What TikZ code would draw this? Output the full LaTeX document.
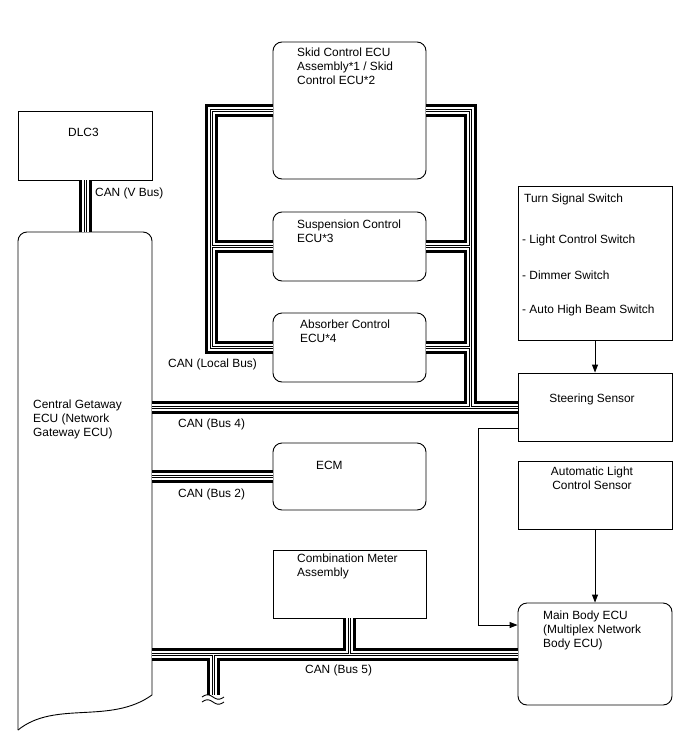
\documentclass[tikz,border=0pt]{standalone}
\usepackage{fontspec}
\setmainfont{Liberation Sans}
\usetikzlibrary{arrows.meta}
\begin{document}
\begin{tikzpicture}[x=1pt,y=-1pt,
  font=\fontsize{11.9}{14}\selectfont,
  box/.style={draw, line width=0.9pt, inner sep=0pt},
  rbox/.style={box, rounded corners=9pt},
  txt/.style={inner sep=0pt, align=left, anchor=north west},
  ctxt/.style={inner sep=0pt, align=center, anchor=center},
  lbl/.style={inner sep=0pt, anchor=west},
  arr/.style={line width=0.9pt, -{Triangle[length=8pt,width=6pt]}},
  c1/.style={line width=13pt, draw=black, line join=miter},
  c2/.style={line width=7pt, draw=white, line join=miter},
  c3/.style={line width=3pt, draw=black, line join=miter},
  c4/.style={line width=1pt, draw=white, line join=miter}]
\useasboundingbox (0,0) rectangle (688,755);

% boxes
\node[box, minimum width=134pt, minimum height=69pt] (dlc) at (85,145.5) {};
\node[inner sep=0pt, minimum width=134pt, minimum height=498pt] (gw) at (85,481) {};
\node[rbox, minimum width=153pt, minimum height=137pt] (skid) at (349.5,110.5) {};
\node[rbox, minimum width=153pt, minimum height=69pt] (susp) at (349.5,246.5) {};
\node[rbox, minimum width=153pt, minimum height=69pt] (abs) at (349.5,347.5) {};
\node[rbox, minimum width=153pt, minimum height=67pt] (ecm) at (349.5,476.5) {};
\node[box, minimum width=153pt, minimum height=68pt] (cm) at (349.5,584) {};
\node[box, minimum width=154pt, minimum height=154pt] (turn) at (595,263) {};
\node[box, minimum width=154pt, minimum height=68pt] (steer) at (595,407) {};
\node[box, minimum width=154pt, minimum height=68pt] (auto) at (595,495) {};
\node[rbox, minimum width=154pt, minimum height=102pt] (mb) at (595,654) {};

% gateway outline with torn bottom
\draw[line width=0.9pt, rounded corners=9pt] (152,695) -- (152,232) -- (18,232) -- (18,730);
\draw[line width=0.9pt] (18,730) .. controls (55,700) and (110,725) .. (152,695);

% helper coordinates
\coordinate (ll) at (211.5,0);
\coordinate (rr) at (470,0);
\coordinate (stub) at (213,695);

% CAN cables (layered)
\foreach \s in {c1,c2,c3,c4}{
  \draw[\s] (dlc.south) -- (gw.north);
  \draw[\s] (skid.west) -- (skid.west -| ll) -- (abs.west -| ll) -- (abs.west);
  \draw[\s] (susp.west) -- (susp.west -| ll);
  \draw[\s] (skid.east) -- (skid.east -| rr) -- (steer.west -| rr);
  \draw[\s] (susp.east) -- (susp.east -| rr);
  \draw[\s] (abs.east) -- (abs.east -| rr);
  \draw[\s] (gw.east |- steer.west) -- (steer.west);
  \draw[\s] (gw.east |- ecm.west) -- (ecm.west);
  \draw[\s] (gw.east |- mb.west) -- (mb.west);
  \draw[\s] (cm.south) -- (cm.south |- mb.west);
  \draw[\s] (stub |- mb.west) -- (stub);
}
% break mark
\draw[line width=0.9pt, domain=0:1, samples=25] plot ({202+22*\x},{697-2.2*sin(360*\x)});
\draw[line width=0.9pt, domain=0:1, samples=25] plot ({202+22*\x},{702-2.2*sin(360*\x)});

% arrows
\coordinate (bend) at (478,0);
\coordinate (s1) at ([yshift=-21pt]steer.west);
\coordinate (m1) at ([yshift=29pt]mb.west);
\draw[arr] (turn.south) -- (steer.north);
\draw[arr] (auto.south) -- (mb.north);
\draw[arr] (s1) -- (s1 -| bend) -- (m1 -| bend) -- (m1);

% texts
\node[txt] (dlcT) at (68,127.5) {DLC3};
\node[lbl] (vbusT) at (95,193) {CAN (V Bus)};
\node[txt] (skidT) at (297,47.5) {Skid Control ECU\\Assembly*1 / Skid\\Control ECU*2};
\node[txt] (suspT) at (297,219.5) {Suspension Control\\ECU*3};
\node[txt] (absT) at (300,319.5) {Absorber Control\\ECU*4};
\node[lbl] (localT) at (168,364) {CAN (Local Bus)};
\node[txt] (gwT) at (33,399.5) {Central Getaway\\ECU (Network\\Gateway ECU)};
\node[lbl] (bus4T) at (178,424) {CAN (Bus 4)};
\node[txt] (ecmT) at (316,460.5) {ECM};
\node[lbl] (bus2T) at (178,494) {CAN (Bus 2)};
\node[txt] (cmT) at (297,553.5) {Combination Meter\\Assembly};
\node[lbl] (bus5T) at (305,670) {CAN (Bus 5)};
\node[txt] (mbT) at (543,610.5) {Main Body ECU\\(Multiplex Network\\Body ECU)};
\node[txt] (turnT) at (524,193.5) {Turn Signal Switch};
\node[lbl] (it1) at (522,240) {- Light Control Switch};
\node[lbl] (it2) at (522,275) {- Dimmer Switch};
\node[lbl] (it3) at (522,310) {- Auto High Beam Switch};
\node[ctxt] (steerT) at (592,399) {Steering Sensor};
\node[ctxt] (autoT) at (592,478) {Automatic Light\\Control Sensor};
\end{tikzpicture}
\end{document}
